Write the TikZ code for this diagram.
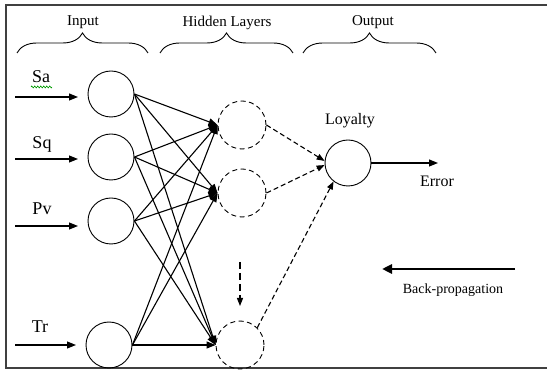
\documentclass[tikz,border=0pt]{standalone}
\usepackage{fontspec}
\setmainfont{Liberation Serif}
\usetikzlibrary{arrows.meta,decorations.pathreplacing,decorations.pathmorphing}

\begin{document}
\begin{tikzpicture}[x=1pt,y=-1pt,
  neuron/.style={circle,draw,line width=0.9pt,minimum size=46pt,inner sep=0pt},
  hidden/.style={circle,draw,dash pattern=on 5pt off 3.5pt,line width=0.9pt,minimum size=48pt,inner sep=0pt},
  link/.style={line width=1.1pt,-{Triangle[length=9pt,width=7pt]}},
  dlink/.style={line width=1.1pt,dash pattern=on 5pt off 3pt,-{Triangle[length=8pt,width=6pt]}},
  feed/.style={line width=1.1pt,-{Triangle[length=9pt,width=7pt]}},
  brc/.style={decorate,decoration={brace,amplitude=20pt},line width=0.9pt},
  lbl/.style={anchor=base,font=\fontsize{18}{20}\selectfont},
  hdr/.style={anchor=base,font=\fontsize{15}{17}\selectfont},
]
\useasboundingbox (0,0) rectangle (547,371);

% open frame
\draw[line width=2pt,black!75] (548,5.5) -- (6,5.5) -- (6,368) -- (548,368);

% group braces and headings
\draw[brc] (17,53) -- (148,53);
\draw[brc] (160,53) -- (293,53);
\draw[brc] (303,53) -- (436,53);
\node[hdr] (tin)  at (83,26)  {Input};
\node[hdr] (thid) at (227,27) {Hidden Layers};
\node[hdr] (tout) at (373,26) {Output};

% neurons
\node[neuron] (i1) at (111,94)  {};
\node[neuron] (i2) at (111,157) {};
\node[neuron] (i3) at (111,221) {};
\node[neuron] (i4) at (109,345) {};
\node[hidden] (h1) at (242,125) {};
\node[hidden] (h2) at (242,193) {};
\node[hidden] (h3) at (240,345) {};
\node[neuron] (o)  at (348,163) {};

% input labels and feeding arrows
\node[lbl] (lsa) at (41,83)  {Sa};
\node[lbl] (lsq) at (42,149) {Sq};
\node[lbl] (lpv) at (42,215) {Pv};
\node[lbl] (ltr) at (40,333) {Tr};
\draw[green!60!black,line width=0.6pt,decorate,decoration={zigzag,amplitude=1pt,segment length=3pt}] (31,87) -- (52,87);

\coordinate (a1) at (15,97);  \coordinate (b1) at (78,97);
\coordinate (a2) at (15,159); \coordinate (b2) at (78,159);
\coordinate (a3) at (15,226); \coordinate (b3) at (78,226);
\coordinate (a4) at (15,345); \coordinate (b4) at (76,345);
\foreach \k in {1,...,4} \draw[feed] (a\k) -- (b\k);

% full connections input -> hidden
\foreach \i in {1,...,4}
  \foreach \h in {1,2,3}
    \draw[link] (i\i.east) -- (h\h.west);

% hidden -> output
\draw[dlink] (h1.east) -- (o.175);
\draw[dlink] (h2.east) -- (o.185);
\draw[dlink] (h3.45) -- (o.232);

% further hidden units
\coordinate (v1) at (240,262);
\coordinate (v2) at (240,306);
\draw[line width=1.1pt,dash pattern=on 7pt off 4pt,-{Triangle[length=8pt,width=6pt]}] (v1) -- (v2);

% output
\node[lbl,font=\fontsize{16}{18}\selectfont] (lloy) at (350,125) {Loyalty};
\coordinate (e) at (438,163);
\draw[feed] (o.east) -- (e);
\node[lbl,font=\fontsize{16}{18}\selectfont] (lerr) at (437,187) {Error};

% back-propagation
\coordinate (bp1) at (515,269);
\coordinate (bp2) at (382,269);
\draw[line width=2.5pt,-{Triangle[length=10pt,width=9pt]}] (bp1) -- (bp2);
\node[lbl,font=\fontsize{14}{16}\selectfont] (lbp) at (453,294) {Back-propagation};
\end{tikzpicture}
\end{document}
